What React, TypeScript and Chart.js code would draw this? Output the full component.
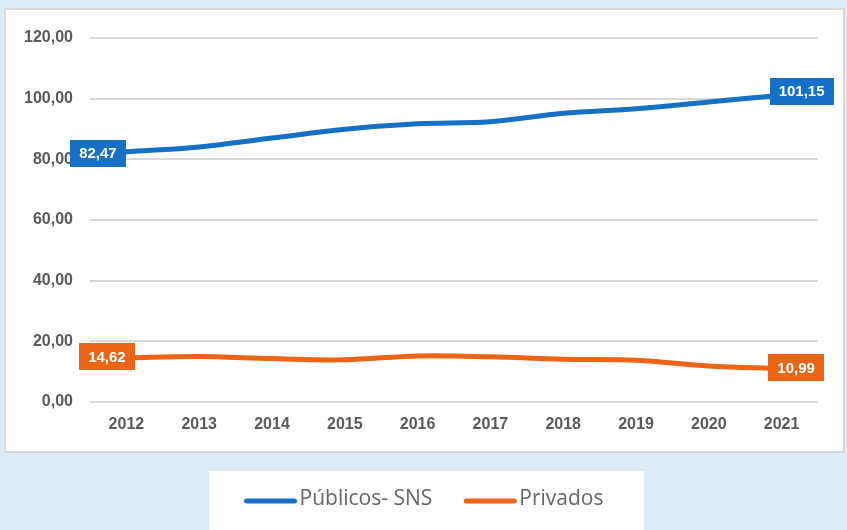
import React, { useEffect, useRef } from "react";
import { Chart, registerables } from "chart.js";

Chart.register(...registerables);

const years = ["2012", "2013", "2014", "2015", "2016", "2017", "2018", "2019", "2020", "2021"];
const publicos = [82.47, 84.1, 87.0, 89.9, 91.7, 92.4, 95.2, 96.7, 98.9, 101.15];
const privados = [14.62, 15.0, 14.3, 13.9, 15.2, 14.9, 14.1, 13.8, 11.9, 10.99];
const seriesNames = ["Públicos- SNS", "Privados"];
const seriesColors = ["#1570c6", "#ec6516"];
const yTicks = [0, 20, 40, 60, 80, 100, 120];

const fmt = (v: number) => v.toFixed(2).replace(".", ",");

const BG = "#ddebf6";

const backgroundPlugin = {
  id: "bgPanels",
  beforeDraw(chart: any) {
    const { ctx, width, height } = chart;
    ctx.save();
    ctx.fillStyle = BG;
    ctx.fillRect(0, 0, width, height);
    ctx.fillStyle = "#ffffff";
    ctx.fillRect(5, 9, 839, 443);
    ctx.strokeStyle = "#d9d9d9";
    ctx.lineWidth = 2;
    ctx.strokeRect(5, 9, 839, 443);
    ctx.fillStyle = "#ffffff";
    ctx.fillRect(209, 471, 435, 59);
    ctx.restore();
  },
};

const labelOffsets: Record<number, [number, number][]> = {
  0: [[-28.5, 1.5], [20, -4]],
  1: [[-19.5, -1], [14.5, -1]],
};

const endLabelsPlugin = {
  id: "endLabels",
  afterDatasetsDraw(chart: any) {
    const { ctx } = chart;
    ctx.save();
    ctx.font = "bold 15px 'Liberation Sans', Arial, sans-serif";
    ctx.textAlign = "center";
    ctx.textBaseline = "middle";
    chart.data.datasets.forEach((ds: any, di: number) => {
      const meta = chart.getDatasetMeta(di);
      const idxs = [0, ds.data.length - 1];
      idxs.forEach((idx, k) => {
        const pt = meta.data[idx];
        const [dx, dy] = labelOffsets[di][k];
        const cx = pt.x + dx;
        const cy = pt.y + dy;
        const text = fmt(ds.data[idx]);
        const tw = ctx.measureText(text).width;
        const w = tw + 18;
        const h = 27;
        ctx.fillStyle = ds.borderColor;
        ctx.fillRect(Math.round(cx - w / 2), Math.round(cy - h / 2), Math.round(w), h);
        ctx.fillStyle = "#ffffff";
        ctx.fillText(text, cx, cy + 1);
      });
    });
    ctx.restore();
  },
};

const legendPlugin = {
  id: "customLegend",
  afterDraw(chart: any) {
    const { ctx } = chart;
    ctx.save();
    ctx.font = "21px 'Open Sans', sans-serif";
    ctx.textBaseline = "middle";
    ctx.textAlign = "left";
    const lineLen = 52;
    const textGap = 3;
    const itemGap = 32;
    const items = chart.data.datasets.map((ds: any) => ({
      label: ds.label,
      color: ds.borderColor,
      w: ctx.measureText(ds.label).width,
    }));
    const total = items.reduce((s: number, it: any) => s + lineLen + textGap + it.w, 0) + itemGap * (items.length - 1);
    let x = 424 - total / 2;
    const y = 499;
    items.forEach((it: any) => {
      ctx.strokeStyle = it.color;
      ctx.lineWidth = 5;
      ctx.lineCap = "round";
      ctx.beginPath();
      ctx.moveTo(x + 2, y + 2);
      ctx.lineTo(x + lineLen - 2, y + 2);
      ctx.stroke();
      x += lineLen + textGap;
      ctx.fillStyle = "#666666";
      ctx.fillText(it.label, x, y);
      x += it.w + itemGap;
    });
    ctx.restore();
  },
};

export default function App() {
  const ref = useRef<HTMLCanvasElement | null>(null);

  useEffect(() => {
    document.body.style.margin = "0";
    if (!ref.current) return;
    const chart = new Chart(ref.current, {
      type: "line",
      data: {
        labels: years,
        datasets: [
          {
            label: seriesNames[0],
            data: publicos,
            borderColor: seriesColors[0],
            backgroundColor: seriesColors[0],
            borderWidth: 5,
            pointRadius: 0,
            tension: 0.35,
            borderCapStyle: "round",
          },
          {
            label: seriesNames[1],
            data: privados,
            borderColor: seriesColors[1],
            backgroundColor: seriesColors[1],
            borderWidth: 5,
            pointRadius: 0,
            tension: 0.35,
            borderCapStyle: "round",
          },
        ],
      },
      options: {
        animation: false,
        responsive: false,
        layout: { padding: { left: 5, right: 29, top: 38, bottom: 80 } },
        plugins: {
          legend: { display: false },
          tooltip: { enabled: false },
        },
        scales: {
          x: {
            offset: true,
            grid: { display: false, drawTicks: false },
            border: { display: false },
            ticks: {
              padding: 13,
              color: "#595959",
              font: { family: "'Liberation Sans', Arial, sans-serif", size: 16, weight: "bold" },
            },
            afterFit: (s: any) => {
              s.height = 48;
            },
          },
          y: {
            min: 0,
            max: 120,
            afterBuildTicks: (s: any) => {
              s.ticks = yTicks.map((v) => ({ value: v }));
            },
            grid: { color: "#d9d9d9", lineWidth: 2, drawTicks: false },
            border: { display: false },
            ticks: {
              padding: 17,
              color: "#595959",
              font: { family: "'Liberation Sans', Arial, sans-serif", size: 16, weight: "bold" },
              callback: (v: any) => fmt(Number(v)),
            },
            afterFit: (s: any) => {
              s.width = 85;
            },
          },
        },
      },
      plugins: [backgroundPlugin, endLabelsPlugin, legendPlugin],
    });
    return () => chart.destroy();
  }, []);

  return (
    <div style={{ position: "absolute", left: 0, top: 0, width: 847, height: 530 }}>
      <canvas ref={ref} width={847} height={530} style={{ display: "block" }} />
    </div>
  );
}
